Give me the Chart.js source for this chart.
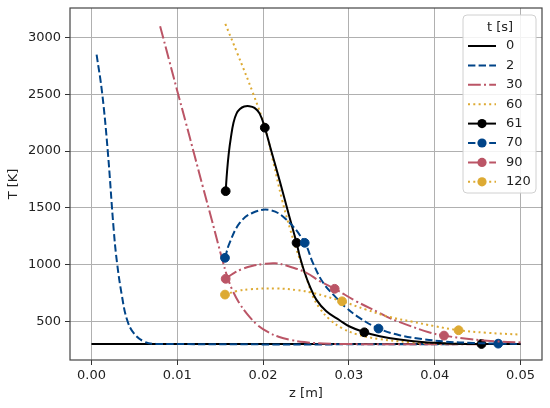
<!DOCTYPE html>
<html>
<head>
<meta charset="utf-8">
<script src="https://cdn.jsdelivr.net/npm/chart.js@4/dist/chart.umd.min.js"></script>
<style>
  html, body { margin: 0; padding: 0; background: #fff; }
</style>
</head>
<body>
<canvas id="chart" width="550" height="408"></canvas>
<script>
// ================== Data ==================
const times = ["0", "2", "30", "60", "61", "70", "90", "120"];
const zTicks = [0, 0.01, 0.02, 0.03, 0.04, 0.05];
const TTicks = [500, 1000, 1500, 2000, 2500, 3000];

// t = 0 s
const z_0 = [0, 0.05];
const T_0 = [300, 300];

// t = 2 s
const z_2 = [0.0006, 0.00124, 0.0019, 0.00259, 0.00298, 0.00356, 0.00414, 0.00491, 0.00607, 0.0075, 0.05];
const T_2 = [2850, 2515, 2000, 1310, 1016, 721, 516, 398, 325, 302, 300];

// t = 30 s
const z_30 = [0.0080, 0.0090, 0.0100, 0.0110, 0.0120, 0.0130, 0.0140, 0.0148, 0.0153, 0.0158, 0.0164, 0.0172, 0.0182, 0.0194, 0.0206, 0.0218, 0.0232, 0.0248, 0.0270, 0.0300, 0.05];
const T_30 = [3100, 2815, 2530, 2250, 1965, 1680, 1400, 1170, 1030, 900, 780, 665, 560, 465, 405, 365, 337, 318, 305, 300, 300];

// t = 60 s
const z_60 = [0.0156, 0.0170, 0.0188, 0.0202, 0.0212, 0.0222, 0.0232, 0.0239, 0.0246, 0.0252, 0.0258, 0.0266, 0.0278, 0.0292, 0.0310, 0.0335, 0.0370, 0.0420, 0.05];
const T_60 = [3120, 2860, 2515, 2210, 1900, 1574, 1300, 1130, 980, 850, 720, 615, 515, 440, 385, 345, 318, 304, 300];

// t = 61 s
const z_61 = [0.01564, 0.0158, 0.0160, 0.01625, 0.01655, 0.0169, 0.0173, 0.0178, 0.0184, 0.0190, 0.0196, 0.0202, 0.0210, 0.0220, 0.0230, 0.0239, 0.02427, 0.02485, 0.02544, 0.0262, 0.02737, 0.02892, 0.03008, 0.0318, 0.0336, 0.0359, 0.0385, 0.0415, 0.04545, 0.05];
const T_61 = [1647, 1820, 1980, 2120, 2250, 2330, 2370, 2392, 2395, 2380, 2330, 2206, 1990, 1720, 1440, 1192, 1074, 928, 810, 692, 589, 510, 455, 404, 369, 340, 318, 306, 301, 300];
const mark_61 = [0, 11, 15, 23, 28];

// t = 70 s
const z_70 = [0.01556, 0.0161, 0.0173, 0.0188, 0.0208, 0.0227, 0.02485, 0.0258, 0.0270, 0.02854, 0.0297, 0.03124, 0.03345, 0.0359, 0.0385, 0.0413, 0.0445, 0.0474, 0.05];
const T_70 = [1060, 1192, 1369, 1457, 1480, 1398, 1192, 1016, 840, 707, 619, 531, 437, 378, 345, 322, 310, 304, 301];
const mark_70 = [0, 6, 12, 17];

// t = 90 s
const z_90 = [0.01564, 0.0165, 0.0175, 0.0188, 0.0200, 0.0214, 0.0228, 0.02505, 0.0266, 0.02834, 0.03086, 0.03356, 0.0347, 0.0367, 0.0394, 0.04108, 0.0440, 0.0470, 0.0500];
const T_90 = [875, 920, 960, 990, 1005, 1012, 990, 928, 854, 787, 677, 575, 531, 472, 402, 375, 345, 325, 315];
const mark_90 = [0, 9, 15];

// t = 120 s
const z_120 = [0.01556, 0.0170, 0.0185, 0.02157, 0.0240, 0.0258, 0.0292, 0.0320, 0.0347, 0.0374, 0.0400, 0.04278, 0.0460, 0.05];
const T_120 = [736, 768, 783, 790, 775, 751, 677, 604, 540, 497, 458, 422, 400, 384];
const mark_120 = [0, 6, 11];

// ================== Styles ==================
const BLACK = "#000000", BLUE = "#004488", RED = "#BB5566", YELLOW = "#DDAA33";
const DASHED = [7.4, 3.2], DASHDOT = [12.8, 3.2, 2, 3.2], DOTTED = [2, 3.3];
const FONT = { family: "'DejaVu Sans', sans-serif", size: 13 };
const TEXT = "#222222";

const series = [
  { z: z_0, T: T_0, color: BLACK, dash: [], marks: [] },
  { z: z_2, T: T_2, color: BLUE, dash: DASHED, marks: [] },
  { z: z_30, T: T_30, color: RED, dash: DASHDOT, marks: [] },
  { z: z_60, T: T_60, color: YELLOW, dash: DOTTED, marks: [] },
  { z: z_61, T: T_61, color: BLACK, dash: [], marks: mark_61 },
  { z: z_70, T: T_70, color: BLUE, dash: DASHED, marks: mark_70 },
  { z: z_90, T: T_90, color: RED, dash: DASHDOT, marks: mark_90 },
  { z: z_120, T: T_120, color: YELLOW, dash: DOTTED, marks: mark_120 }
];

const datasets = series.map((s, i) => ({
  label: times[i],
  data: s.z.map((z, k) => ({ x: z, y: s.T[k] })),
  borderColor: s.color,
  backgroundColor: s.color,
  borderWidth: 2,
  borderDash: s.dash,
  fill: false,
  tension: 0.4,
  pointRadius: ctx => s.marks.includes(ctx.dataIndex) ? 4.4 : 0,
  pointHoverRadius: 0,
  pointBackgroundColor: s.color,
  pointBorderColor: s.color,
  pointBorderWidth: 1,
  marks: s.marks,
  order: 20 - i
}));

// ================== Plugins ==================
// khung trục (4 cạnh)
const framePlugin = {
  id: "frame",
  afterDatasetsDraw(chart) {
    const { ctx, chartArea: a } = chart;
    ctx.save();
    ctx.strokeStyle = "#444";
    ctx.lineWidth = 1.2;
    ctx.setLineDash([]);
    ctx.strokeRect(a.left, a.top, a.right - a.left, a.bottom - a.top);
    ctx.restore();
  }
};

// chú thích kiểu matplotlib
const legendPlugin = {
  id: "mplLegend",
  afterDraw(chart) {
    const ctx = chart.ctx;
    const bx = 463, by = 15, bw = 73, bh = 178, r = 4;
    ctx.save();
    ctx.beginPath();
    ctx.moveTo(bx + r, by);
    ctx.arcTo(bx + bw, by, bx + bw, by + bh, r);
    ctx.arcTo(bx + bw, by + bh, bx, by + bh, r);
    ctx.arcTo(bx, by + bh, bx, by, r);
    ctx.arcTo(bx, by, bx + bw, by, r);
    ctx.closePath();
    ctx.fillStyle = "rgba(255,255,255,0.85)";
    ctx.fill();
    ctx.strokeStyle = "#d0d0d0";
    ctx.lineWidth = 1;
    ctx.stroke();

    ctx.font = "13px 'DejaVu Sans', sans-serif";
    ctx.fillStyle = TEXT;
    ctx.textBaseline = "middle";
    ctx.textAlign = "center";
    ctx.fillText("t [s]", 500, 27.5);

    chart.data.datasets.forEach((ds, i) => {
      const y = 46 + i * 19.4;
      ctx.strokeStyle = ds.borderColor;
      ctx.lineWidth = 2;
      ctx.setLineDash(ds.borderDash);
      ctx.beginPath();
      ctx.moveTo(468, y);
      ctx.lineTo(496, y);
      ctx.stroke();
      ctx.setLineDash([]);
      if (ds.marks.length) {
        ctx.fillStyle = ds.borderColor;
        ctx.beginPath();
        ctx.arc(482, y, 4.6, 0, Math.PI * 2);
        ctx.fill();
      }
      ctx.fillStyle = TEXT;
      ctx.textAlign = "left";
      ctx.fillText(ds.label, 506, y);
    });
    ctx.restore();
  }
};

// ================== Chart ==================
new Chart(document.getElementById("chart"), {
  type: "line",
  data: { datasets: datasets },
  options: {
    responsive: false,
    animation: false,
    events: [],
    layout: { padding: { left: 0, right: 8, top: 8, bottom: 0 } },
    plugins: {
      legend: { display: false },
      tooltip: { enabled: false }
    },
    scales: {
      x: {
        type: "linear",
        min: -0.0025,
        max: 0.0525,
        afterBuildTicks: ax => { ax.ticks = zTicks.map(v => ({ value: v })); },
        afterFit: ax => { ax.height = 48; ax.paddingLeft = 0; ax.paddingRight = 0; },
        ticks: { callback: v => v.toFixed(2), font: FONT, color: TEXT, padding: 3, maxRotation: 0, autoSkip: false },
        grid: { color: "#b0b0b0", lineWidth: 1, tickColor: "#333", tickLength: 5, tickWidth: 1 },
        border: { display: false },
        title: { display: true, text: "z [m]", font: FONT, color: TEXT, padding: { top: 0, bottom: 7 } }
      },
      y: {
        type: "linear",
        min: 160,
        max: 3260,
        afterBuildTicks: ax => { ax.ticks = TTicks.map(v => ({ value: v })); },
        afterFit: ax => { ax.width = 70; ax.paddingTop = 0; ax.paddingBottom = 0; },
        ticks: { callback: v => String(v), font: FONT, color: TEXT, padding: 4, autoSkip: false },
        grid: { color: "#b0b0b0", lineWidth: 1, tickColor: "#333", tickLength: 5, tickWidth: 1 },
        border: { display: false },
        title: { display: true, text: "T [K]", font: FONT, color: TEXT, padding: { top: 5.5, bottom: 0 } }
      }
    }
  },
  plugins: [framePlugin, legendPlugin]
});
</script>
</body>
</html>
